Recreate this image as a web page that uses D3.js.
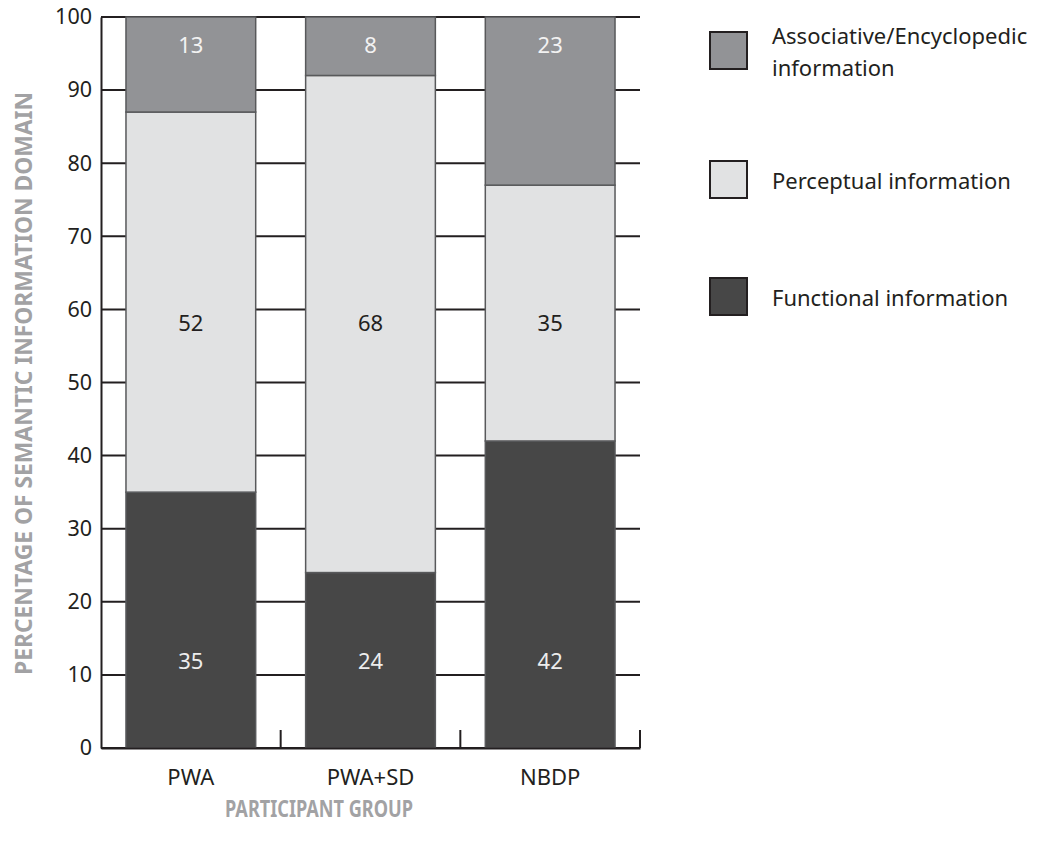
<!DOCTYPE html>
<html>
<head>
<meta charset="utf-8">
<script src="https://cdn.jsdelivr.net/npm/d3@7/dist/d3.min.js"></script>
<style>
  html, body { margin: 0; padding: 0; background: #fff; }
  svg { display: block; font-family: "Noto Sans", "Open Sans", sans-serif; }
</style>
</head>
<body>
<svg id="chart" width="1040" height="847"></svg>
<script>
// Participant groups along the x axis
const groups = ["PWA", "PWA+SD", "NBDP"];
// Percentage of each semantic information domain per group (stacked bottom to top)
const functional = [35, 24, 42];
const perceptual = [52, 68, 35];
const associative = [13, 8, 23];
// Legend entries (top to bottom), each split into its text lines
const legendLabels = [["Associative/Encyclopedic", "information"], ["Perceptual information"], ["Functional information"]];
const yTicks = [0, 10, 20, 30, 40, 50, 60, 70, 80, 90, 100];

const svg = d3.select("#chart");
const x0 = 101, x1 = 640, yTop = 17, yBot = 748;

const x = d3.scaleBand().domain(groups).range([x0, x1]).paddingInner(0.278).paddingOuter(0.139);
const y = d3.scaleLinear().domain([0, 100]).range([yBot, yTop]);

const ink = "#231f20";
const fills = { functional: "#474747", perceptual: "#e1e2e3", associative: "#929396" };
const labelColor = { functional: "#ededed", perceptual: "#231f20", associative: "#f2f2f2" };
// vertical value at which each series' in-bar labels sit
const labelLevel = { functional: 12, perceptual: 58.3, associative: 96.3 };

// Horizontal grid at every tick across the whole plot
svg.append("g")
  .selectAll("line")
  .data(yTicks)
  .join("line")
  .attr("x1", x0).attr("x2", x1)
  .attr("y1", d => y(d)).attr("y2", d => y(d))
  .attr("stroke", ink).attr("stroke-width", 2);

// Stacked bars
const rows = groups.map((g, i) => ({ group: g, functional: functional[i], perceptual: perceptual[i], associative: associative[i] }));
const stack = d3.stack().keys(["functional", "perceptual", "associative"])(rows);

const layers = svg.append("g").selectAll("g").data(stack).join("g")
  .attr("fill", d => fills[d.key]);

layers.selectAll("rect")
  .data(d => d)
  .join("rect")
  .attr("x", d => x(d.data.group))
  .attr("width", x.bandwidth())
  .attr("y", d => y(d[1]))
  .attr("height", d => y(d[0]) - y(d[1]))
  .attr("stroke", "#58595b")
  .attr("stroke-width", 1.5);

// Value labels inside each segment
stack.forEach(layer => {
  svg.append("g").selectAll("text")
    .data(layer)
    .join("text")
    .attr("x", d => x(d.data.group) + x.bandwidth() / 2)
    .attr("y", y(labelLevel[layer.key]))
    .attr("text-anchor", "middle")
    .attr("dominant-baseline", "central")
    .attr("font-size", 22)
    .attr("fill", labelColor[layer.key])
    .text(d => d[1] - d[0]);
});

// Left axis
const yAxis = svg.append("g")
  .attr("transform", `translate(${x0},0)`)
  .call(d3.axisLeft(y).tickValues(yTicks).tickSize(0).tickPadding(9));
yAxis.select(".domain").attr("stroke", ink).attr("stroke-width", 2);
yAxis.selectAll("text").attr("font-size", 21.5).attr("fill", ink)
  .attr("font-family", "Noto Sans, sans-serif");

// Bottom axis with upward ticks at group boundaries
const xAxis = svg.append("g")
  .attr("transform", `translate(0,${yBot})`)
  .call(d3.axisBottom(x).tickSize(0).tickPadding(21));
xAxis.select(".domain").attr("stroke", ink).attr("stroke-width", 2);
xAxis.selectAll("text").attr("font-size", 22).attr("fill", ink)
  .attr("font-family", "Noto Sans, sans-serif");

svg.append("g").selectAll("line")
  .data(groups)
  .join("line")
  .attr("x1", g => x(g) + x.bandwidth() + x.step() * x.paddingInner() / 2)
  .attr("x2", g => x(g) + x.bandwidth() + x.step() * x.paddingInner() / 2)
  .attr("y1", yBot).attr("y2", yBot - 18)
  .attr("stroke", ink).attr("stroke-width", 2);

// Axis titles
svg.append("text")
  .attr("transform", `translate(22,383.5) rotate(-90)`)
  .attr("text-anchor", "middle")
  .attr("dominant-baseline", "central")
  .attr("font-size", 24).attr("font-weight", "bold").attr("fill", "#a2a2a4")
  .attr("textLength", 583).attr("lengthAdjust", "spacingAndGlyphs")
  .text("PERCENTAGE OF SEMANTIC INFORMATION DOMAIN");

svg.append("text")
  .attr("x", 319).attr("y", 807)
  .attr("text-anchor", "middle")
  .attr("dominant-baseline", "central")
  .attr("font-size", 24).attr("font-weight", "bold").attr("fill", "#a2a2a4")
  .attr("textLength", 188).attr("lengthAdjust", "spacingAndGlyphs")
  .text("PARTICIPANT GROUP");

// Legend
const legendKeys = ["associative", "perceptual", "functional"];
const legendY = [32, 161, 278];
const legend = svg.append("g").selectAll("g")
  .data(legendKeys)
  .join("g")
  .attr("transform", (d, i) => `translate(710,${legendY[i]})`);

legend.append("rect")
  .attr("width", 37).attr("height", 37)
  .attr("fill", d => fills[d])
  .attr("stroke", ink).attr("stroke-width", 2);

legend.each(function (d, i) {
  const lines = legendLabels[i];
  d3.select(this).selectAll("text").data(lines).join("text")
    .attr("x", 62)
    .attr("y", (l, j) => (lines.length > 1 ? 3 : 19) + j * 32)
    .attr("dominant-baseline", "central")
    .attr("font-size", 22)
    .attr("fill", ink)
    .text(l => l);
});
</script>
</body>
</html>
